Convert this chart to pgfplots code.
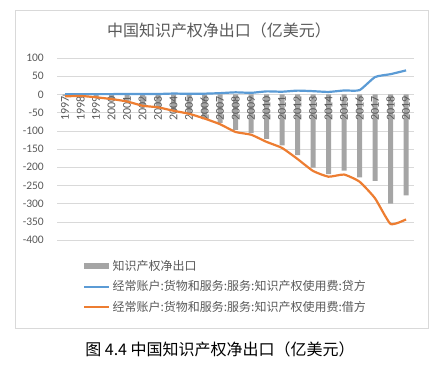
\documentclass[border=0pt]{standalone}
\usepackage{fontspec}
\setmainfont{Carlito}
\newfontfamily\cjk{Noto Sans CJK SC}
\usepackage{pgfplots}
\pgfplotsset{compat=1.18}
\definecolor{barg}{RGB}{165,165,165}
\definecolor{lblue}{RGB}{91,155,213}
\definecolor{lorange}{RGB}{237,125,49}
\definecolor{txt}{RGB}{89,89,89}
\definecolor{gridc}{RGB}{217,217,217}
\begin{document}
\begin{tikzpicture}
\path (0pt,0pt) rectangle (440pt,-372pt);
\draw[gridc, line width=0.6pt] (15pt,-10pt) rectangle (428pt,-328pt);
\node[text=txt, font=\cjk\fontsize{16}{18}\selectfont] at (219pt,-30pt) {中国知识产权净出口（亿美元）};
\node[font=\cjk\fontsize{16}{18}\selectfont] at (220pt,-349pt) {图 4.4 中国知识产权净出口（亿美元）};
\begin{axis}[at={(57.3pt,-240pt)}, anchor=south west, scale only axis,
  width=356.5pt, height=182pt,
  xmin=1996.5, xmax=2019.5, ymin=-400, ymax=100,
  axis line style={draw=none},
  ytick={-400,-350,...,100}, xtick={1997,...,2019}, xticklabels={},
  major tick length=0pt, tick style={draw=none},
  ymajorgrids, grid style={gridc, line width=0.6pt},
  /pgf/number format/assume math mode=true,
  yticklabel style={font=\fontsize{11.5}{12}\selectfont, text=txt, xshift=-10pt},
  legend style={at={(0.064,-0.088)}, anchor=north west, draw=none, fill=none,
    font=\cjk\fontsize{12}{13}\selectfont, text=txt, row sep=5pt,
    /tikz/every even column/.append style={column sep=1pt}},
  legend cell align=left,
  clip=false,
]
\addplot[ybar, bar width=5pt, fill=barg, draw=none,
  legend image code/.code={\fill[barg] (0pt,-3pt) rectangle (25pt,3pt);}]
  table {
1997 -4.9
1998 -3.6
1999 -7.2
2000 -12.0
2001 -18.3
2002 -29.8
2003 -34.4
2004 -42.6
2005 -51.6
2006 -64.3
2007 -78.5
2008 -97.5
2009 -106.4
2010 -122.1
2011 -139.7
2012 -167.1
2013 -201.4
2014 -219.3
2015 -209.4
2016 -228.1
2017 -237.8
2018 -300.3
2019 -277.4
};
\addlegendentry{知识产权净出口}
\pgfplotsinvokeforeach{1997,...,2019}{
  \node[rotate=90, anchor=east, inner sep=2pt, text=txt, font=\fontsize{12}{12}\selectfont] at (axis cs:#1,0) {#1};
}
\addplot[lblue, line width=2.2pt, smooth, tension=0.3,
  legend image code/.code={\draw (0pt,0pt) -- (25pt,0pt);}]
  table {
1997 0.55
1998 0.63
1999 0.75
2000 0.8
2001 1.1
2002 1.3
2003 1.07
2004 2.36
2005 1.57
2006 2.05
2007 3.43
2008 5.71
2009 4.29
2010 8.3
2011 7.4
2012 10.4
2013 8.9
2014 6.8
2015 10.8
2016 11.7
2017 47.7
2018 55.6
2019 66.0
};
\addlegendentry{经常账户:货物和服务:服务:知识产权使用费:贷方}
\addplot[lorange, line width=2.2pt, smooth, tension=0.3,
  legend image code/.code={\draw (0pt,0pt) -- (25pt,0pt);}]
  table {
1997 -5.4
1998 -4.2
1999 -7.9
2000 -12.8
2001 -19.4
2002 -31.1
2003 -35.5
2004 -45.0
2005 -53.2
2006 -66.3
2007 -81.9
2008 -103.2
2009 -110.7
2010 -130.4
2011 -147.1
2012 -177.5
2013 -210.3
2014 -226.1
2015 -220.2
2016 -239.8
2017 -285.5
2018 -355.9
2019 -343.4
};
\addlegendentry{经常账户:货物和服务:服务:知识产权使用费:借方}
\end{axis}
\end{tikzpicture}
\end{document}
